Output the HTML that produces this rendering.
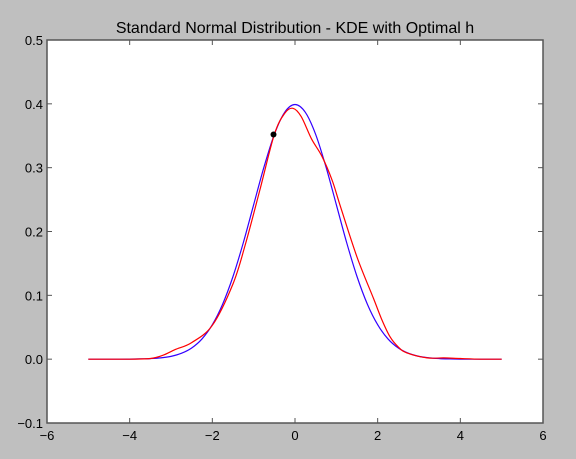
<!DOCTYPE html>
<html><head><meta charset="utf-8"><style>
html,body{margin:0;padding:0;background:#bfbfbf;}
svg{display:block;font-family:"Liberation Sans",sans-serif;}
</style></head><body>
<svg id="chart" width="576" height="459">
<rect width="576" height="459" fill="#bfbfbf"/>
<text x="295" y="33" text-anchor="middle" font-size="16" fill="#000">Standard Normal Distribution - KDE with Optimal h</text>
<rect x="47" y="40" width="496" height="383" fill="#fff"/>
<g id="ticks"></g>
<g id="series"></g>
<rect x="47" y="40" width="496" height="383" fill="none" stroke="#555" stroke-width="1.5"/>
</svg>
<script>
const xTicks=[-6,-4,-2,0,2,4,6];
const xTickLabels=["\u22126","\u22124","\u22122","0","2","4","6"];
const yTicks=[-0.1,0,0.1,0.2,0.3,0.4,0.5];
const yTickLabels=["\u22120.1","0.0","0.1","0.2","0.3","0.4","0.5"];
const blueX=[-5,-4.75,-4.5,-4.25,-4,-3.75,-3.5,-3.25,-3,-2.75,-2.5,-2.25,-2,-1.75,-1.5,-1.25,-1,-0.75,-0.5,-0.25,0,0.25,0.5,0.75,1,1.25,1.5,1.75,2,2.25,2.5,2.75,3,3.25,3.5,3.75,4,4.25,4.5,4.75,5];
const blueY=[0,0,0,0,0.0001,0.0004,0.0009,0.002,0.0044,0.0091,0.0175,0.0317,0.054,0.0863,0.1295,0.1826,0.242,0.3011,0.3521,0.3867,0.3989,0.3867,0.3521,0.3011,0.242,0.1826,0.1295,0.0863,0.054,0.0317,0.0175,0.0091,0.0044,0.002,0.0009,0.0004,0.0001,0,0,0,0];
const redX=[-5,-4,-3.5,-3.2,-2.9,-2.5,-2.0,-1.5,-1.2,-0.85,-0.5,-0.25,-0.05,0.15,0.4,0.65,0.9,1.1,1.5,1.9,2.1,2.3,2.5,2.7,3.2,3.6,4.0,4.5,5];
const redY=[0,0,0.001,0.006,0.015,0.026,0.053,0.118,0.18,0.265,0.352,0.385,0.393,0.38,0.345,0.318,0.28,0.239,0.16,0.095,0.062,0.035,0.019,0.01,0.002,0.002,0.001,0,0];
const pointX=[-0.52];
const pointY=[0.352];

const L=47,R=543,T=40,B=423,xmin=-6,xmax=6,ymin=-0.1,ymax=0.5;
const sx=v=>L+(v-xmin)/(xmax-xmin)*(R-L);
const sy=v=>B-(v-ymin)/(ymax-ymin)*(B-T);
const NS="http://www.w3.org/2000/svg";
function mk(tag,attrs,parent){const e=document.createElementNS(NS,tag);for(const k in attrs)e.setAttribute(k,attrs[k]);parent.appendChild(e);return e;}
const tg=document.getElementById('ticks');
xTicks.forEach((t,i)=>{
  const x=sx(t);
  const a=mk('line',{x1:x,x2:x,y1:B,y2:B-5,stroke:'#555'},tg);
  
  
  const b=mk('line',{x1:x,x2:x,y1:T,y2:T+5,stroke:'#555'},tg);
  
  
  const l=mk('text',{x:x,y:B+17,'text-anchor':'middle','font-size':13,fill:'#000'},tg);
  l.textContent=xTickLabels[i];
  
  
});
yTicks.forEach((t,i)=>{
  const y=sy(t);
  const a=mk('line',{x1:L,x2:L+5,y1:y,y2:y,stroke:'#555'},tg);
  
  
  const b=mk('line',{x1:R,x2:R-5,y1:y,y2:y,stroke:'#555'},tg);
  
  
  const l=mk('text',{x:L-4,y:y+5,'text-anchor':'end','font-size':13,fill:'#000'},tg);
  l.textContent=yTickLabels[i];
  
  
});
function smoothPath(xs,ys){
  const p=xs.map((x,i)=>[sx(x),sy(ys[i])]);
  let d=`M${p[0][0]},${p[0][1]}`;
  for(let i=0;i<p.length-1;i++){
    const p0=p[Math.max(i-1,0)],p1=p[i],p2=p[i+1],p3=p[Math.min(i+2,p.length-1)];
    const c1=[p1[0]+(p2[0]-p0[0])/6,p1[1]+(p2[1]-p0[1])/6];
    const c2=[p2[0]-(p3[0]-p1[0])/6,p2[1]-(p3[1]-p1[1])/6];
    d+=`C${c1[0]},${c1[1]} ${c2[0]},${c2[1]} ${p2[0]},${p2[1]}`;
  }
  return d;
}
const sg=document.getElementById('series');
const bl=mk('path',{d:smoothPath(blueX,blueY),fill:'none',stroke:'#3300ff','stroke-width':1.2},sg);


const rl=mk('path',{d:smoothPath(redX,redY),fill:'none',stroke:'#ff0000','stroke-width':1.2},sg);


pointX.forEach((x,i)=>{
  const c=mk('circle',{cx:sx(x),cy:sy(pointY[i]),r:3,fill:'#000'},sg);
  
  
});
</script>
</body></html>
